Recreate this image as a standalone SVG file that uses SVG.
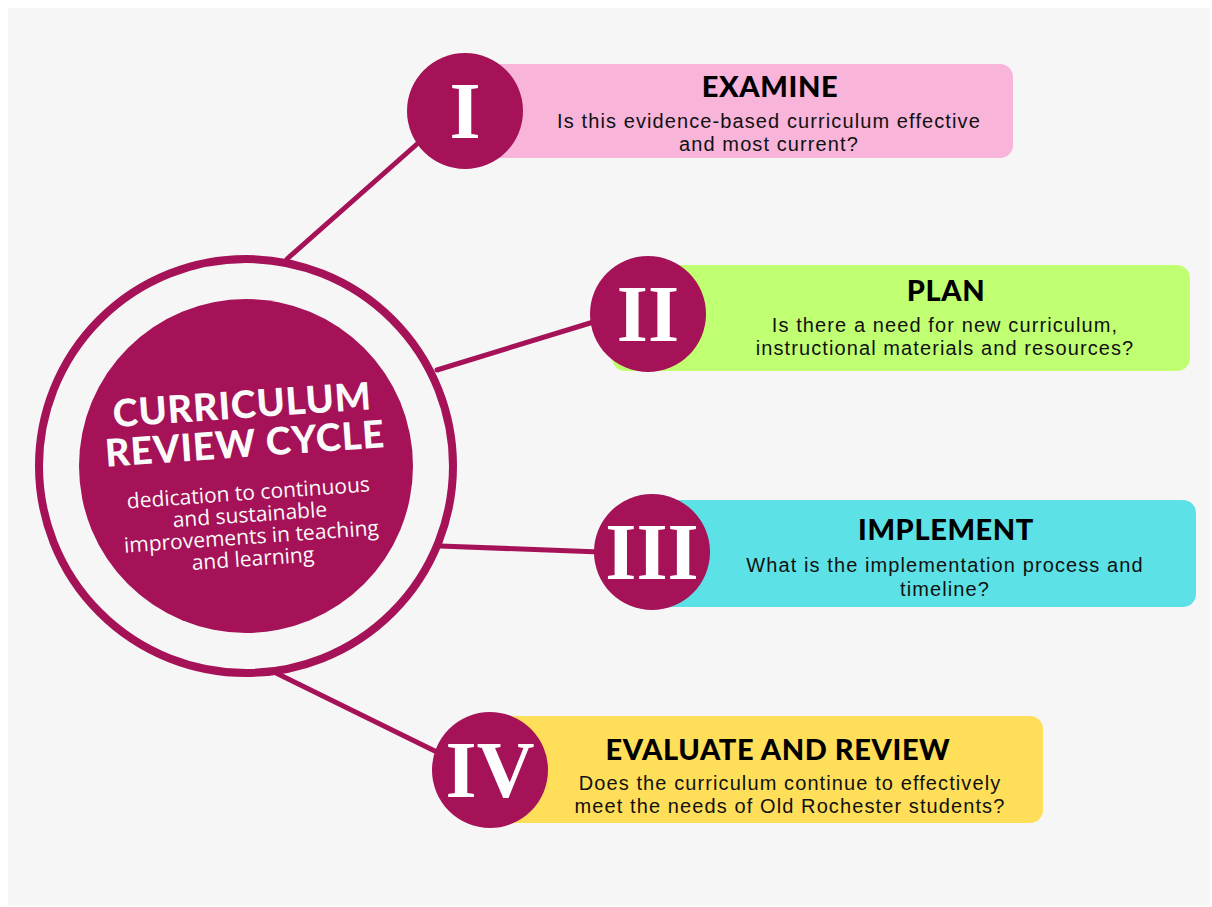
<svg xmlns="http://www.w3.org/2000/svg" width="1212" height="907" viewBox="0 0 1212 907">
<style>
.conn{stroke:#a51257;stroke-width:5;fill:none;stroke-linecap:round}
.badge{fill:#a51257}
.num{font-family:"Liberation Serif",serif;font-weight:bold;font-size:80px;fill:#ffffff;text-anchor:middle}
.title{font-family:"Lato","Open Sans",sans-serif;font-weight:900;font-size:29px;letter-spacing:0.6px;fill:#000;text-anchor:middle}
.desc{font-family:"Liberation Sans",Arial,sans-serif;font-size:20px;letter-spacing:1.1px;fill:#111;text-anchor:middle}
.ctitle{font-family:"Lato","Open Sans",sans-serif;font-weight:900;font-size:38px;letter-spacing:0.8px;fill:#fafafa;text-anchor:middle}
.csub{font-family:"Open Sans",sans-serif;font-size:21px;fill:#fafafa;text-anchor:middle}
</style>
<rect x="0" y="0" width="1212" height="907" fill="#ffffff"/>
<rect x="8" y="8" width="1202" height="897" fill="#f6f6f6"/>
<g id="connectors">
<line class="conn" x1="287" y1="259" x2="425" y2="137"/>
<line class="conn" x1="437" y1="370" x2="600" y2="320"/>
<line class="conn" x1="440" y1="546" x2="600" y2="552"/>
<line class="conn" x1="276" y1="673" x2="445" y2="756"/>
</g>
<g id="center">
<circle cx="246" cy="466" r="207" fill="none" stroke="#a51257" stroke-width="8"/>
<circle cx="246" cy="466" r="167" fill="#a51257"/>
<g transform="rotate(-4 246 460)">
<text class="ctitle" x="246" y="418">CURRICULUM</text>
<text class="ctitle" x="246" y="457">REVIEW CYCLE</text>
<text class="csub" x="246" y="500">dedication to continuous</text>
<text class="csub" x="246" y="522">and sustainable</text>
<text class="csub" x="246" y="544">improvements in teaching</text>
<text class="csub" x="246" y="566">and learning</text>
</g>
</g>
<g id="examine">
<rect x="470" y="64" width="543" height="94" rx="13" fill="#f8b4d9"/>
<circle class="badge" cx="465" cy="111" r="58"/>
<text class="num" x="465" y="138">I</text>
<text class="title" x="770" y="97">EXAMINE</text>
<text class="desc" x="769" y="128">Is this evidence-based curriculum effective</text>
<text class="desc" x="769" y="151">and most current?</text>
</g>
<g id="plan">
<rect x="612" y="265" width="578" height="106" rx="13" fill="#c1ff72"/>
<circle class="badge" cx="648" cy="314" r="58"/>
<text class="num" x="648" y="341">II</text>
<text class="title" x="946" y="301">PLAN</text>
<text class="desc" x="945" y="332">Is there a need for new curriculum,</text>
<text class="desc" x="945" y="355">instructional materials and resources?</text>
</g>
<g id="implement">
<rect x="630" y="500" width="566" height="107" rx="13" fill="#5ce1e6"/>
<circle class="badge" cx="652" cy="552" r="58"/>
<text class="num" x="652" y="579">III</text>
<text class="title" x="946" y="540">IMPLEMENT</text>
<text class="desc" x="945" y="572">What is the implementation process and</text>
<text class="desc" x="945" y="596">timeline?</text>
</g>
<g id="evaluate">
<rect x="500" y="716" width="543" height="107" rx="13" fill="#ffde59"/>
<circle class="badge" cx="490" cy="770" r="58"/>
<text class="num" x="490" y="797">IV</text>
<text class="title" x="778" y="760">EVALUATE AND REVIEW</text>
<text class="desc" x="790" y="790">Does the curriculum continue to effectively</text>
<text class="desc" x="790" y="813">meet the needs of Old Rochester students?</text>
</g>
</svg>
